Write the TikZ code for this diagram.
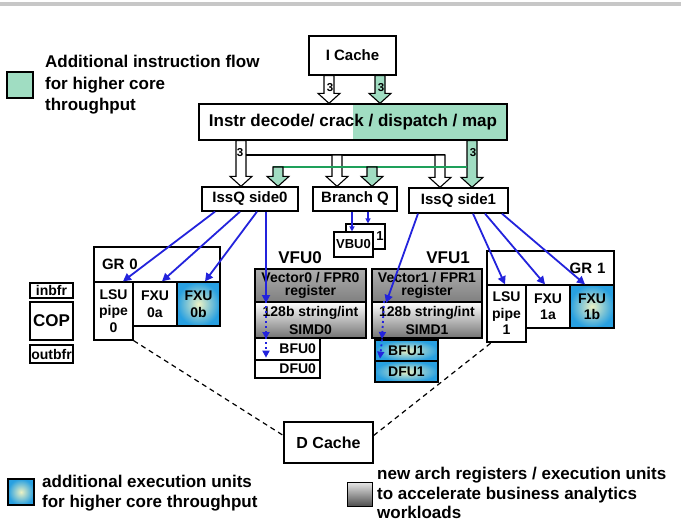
\documentclass[tikz,border=0pt]{standalone}
\usepackage{fontspec}
\setmainfont{Liberation Sans}
\usetikzlibrary{arrows.meta, calc, positioning}

\definecolor{mint}{RGB}{160,221,194}
\definecolor{flowgreen}{RGB}{30,160,90}
\definecolor{wireblue}{RGB}{35,35,220}
\definecolor{unitblue}{RGB}{40,160,225}
\definecolor{unitlight}{RGB}{236,242,196}

\tikzset{
    box/.style={draw, line width=1.3pt, fill=white, inner sep=0pt, align=center,
        font=\bfseries\fontsize{15}{17}\selectfont},
    unitbox/.style={box, font=\bfseries\fontsize{14}{16.5}\selectfont},
    newunit/.style={unitbox, inner color=unitlight, outer color=unitblue},
    regbox/.style={box, line width=2pt, font=\bfseries\fontsize{14}{13.5}\selectfont,
        top color=black!32, middle color=black!4, bottom color=black!50},
    simdbox/.style={box, line width=2pt, font=\bfseries\fontsize{14}{18}\selectfont,
        top color=white, middle color=black!10, bottom color=black!55},
    legendtxt/.style={anchor=west, inner sep=0pt, align=left,
        font=\bfseries\fontsize{17}{21.5}\selectfont},
    fatbody/.style={draw, line width=1.1pt, line join=miter},
    lanes/.style={font=\bfseries\fontsize{11.5}{11.5}\selectfont, inner sep=0pt},
    issue/.style={draw=wireblue, line width=1.8pt, -{Triangle[length=8pt, width=8pt]}},
    thinflow/.style={draw=wireblue, line width=1.2pt, -{Triangle[length=5pt, width=5pt]}},
    dotflow/.style={draw=wireblue, line width=1.8pt, dash pattern=on 2pt off 3pt,
        -{Triangle[length=7pt, width=7pt]}},
    flowline/.style={draw=flowgreen, line width=1.4pt},
    memlink/.style={draw, line width=1.2pt, dash pattern=on 5pt off 4pt}
}

\newcommand{\widearrow}[3]{%
    \path[fatbody, fill=#3] let \p1=#1, \p2=#2 in
        (\x1-5pt,\y1) -- (\x1-5pt,\y2+10pt) -- (\x1-11pt,\y2+10pt) -- (\x1,\y2)
        -- (\x1+11pt,\y2+10pt) -- (\x1+5pt,\y2+10pt) -- (\x1+5pt,\y1) -- cycle;}

\begin{document}
\begin{tikzpicture}[x=1pt, y=-1pt]
                        \useasboundingbox (0,0) rectangle (681,523);
                        \fill[black!22] (0,2) rectangle (681,6);

                        \node[draw, line width=1.2pt, fill=mint, minimum width=26pt, minimum height=26pt] (greenkey) at (20,85) {};
                        \node[legendtxt] (greentxt) at (45,85) {Additional instruction flow\\for higher core\\throughput};

                        \node[box, minimum width=87pt, minimum height=39pt] (icache) at (352.5,55.5) {I Cache};
                        \node[box, minimum width=308pt, minimum height=36pt, font=\bfseries\fontsize{17}{20}\selectfont,
                            path picture={\fill[mint] ($(path picture bounding box.north west)!0.5!(path picture bounding box.north east)$) rectangle (path picture bounding box.south east);}]
                            (decode) at (353,122) {Instr decode/ crack / dispatch / map};

                        \node[box, minimum width=96pt, minimum height=24pt] (issq0) at (250,199) {IssQ side0};
                        \node[box, minimum width=84pt, minimum height=24pt] (branchq) at (355,199) {Branch Q};
                        \node[box, minimum width=99pt, minimum height=25pt] (issq1) at (458.5,200.5) {IssQ side1};

                        \node[unitbox, line width=1.1pt, minimum width=39pt, minimum height=25pt, text width=36pt, align=right, font=\bfseries\fontsize{13}{15}\selectfont] (vbu1) at (365.5,236.5) {1};
                        \node[unitbox, line width=1.1pt, minimum width=39pt, minimum height=25pt, font=\bfseries\fontsize{13}{15}\selectfont] (vbu0) at (353.5,244.5) {VBU0};

                        \node[font=\bfseries\fontsize{17}{20}\selectfont] (vfu0) at (300,258) {VFU0};
                        \node[regbox, minimum width=111pt, minimum height=33pt] (vreg0) at (310.5,285.5) {Vector0 / FPR0\\register};
                        \node[simdbox, minimum width=111pt, minimum height=36pt] (simd0) at (310.5,320) {128b string/int\\SIMD0};
                        \node[unitbox, minimum width=65pt, minimum height=22pt, text width=57pt, align=right] (bfu0) at (287.5,349) {BFU0};
                        \node[unitbox, minimum width=65pt, minimum height=18pt, text width=57pt, align=right] (dfu0) at (287.5,369) {DFU0};

                        \node[font=\bfseries\fontsize{17}{20}\selectfont] (vfu1) at (448,258) {VFU1};
                        \node[regbox, minimum width=110pt, minimum height=33pt] (vreg1) at (427,285.5) {Vector1 / FPR1\\register};
                        \node[simdbox, minimum width=110pt, minimum height=36pt] (simd1) at (427,320) {128b string/int\\SIMD1};
                        \node[newunit, minimum width=63pt, minimum height=21pt] (bfu1) at (406.5,350.5) {BFU1};
                        \node[newunit, minimum width=63pt, minimum height=21pt] (dfu1) at (406.5,371.5) {DFU1};

                        \node[box, minimum width=126pt, minimum height=35pt, text width=110pt, align=left] (gr0) at (157,264.5) {GR 0};
                        \node[unitbox, minimum width=39pt, minimum height=58pt] (lsu0) at (113.5,311) {LSU\\pipe\\0};
                        \node[unitbox, minimum width=44pt, minimum height=44pt] (fxu0a) at (155,304) {FXU\\0a};
                        \node[newunit, minimum width=43pt, minimum height=44pt] (fxu0b) at (198.5,304) {FXU\\0b};

                        \node[box, minimum width=127pt, minimum height=34pt, text width=110pt, align=right] (gr1) at (550.5,268) {GR 1};
                        \node[unitbox, minimum width=39pt, minimum height=57pt] (lsu1) at (506.5,313.5) {LSU\\pipe\\1};
                        \node[unitbox, minimum width=44pt, minimum height=43pt] (fxu1a) at (548,306.5) {FXU\\1a};
                        \node[newunit, minimum width=44pt, minimum height=43pt] (fxu1b) at (592,306.5) {FXU\\1b};

                        \node[unitbox, minimum width=43pt, minimum height=15pt] (inbfr) at (51.5,290.5) {inbfr};
                        \node[box, line width=2pt, minimum width=43pt, minimum height=38pt, font=\bfseries\fontsize{17}{20}\selectfont] (cop) at (51.5,321) {COP};
                        \node[unitbox, minimum width=43pt, minimum height=18pt] (outbfr) at (51.5,354) {outbfr};

                        \node[box, minimum width=89pt, minimum height=41pt, font=\bfseries\fontsize{16}{18}\selectfont] (dcache) at (328.5,442.5) {D Cache};

                        \node[draw, line width=1.2pt, minimum width=26pt, minimum height=26pt, inner color=unitlight, outer color=unitblue] (bluekey) at (21,492) {};
                        \node[legendtxt, font=\bfseries\fontsize{17}{20}\selectfont] (bluetxt) at (42,493.5) {additional execution units\\for higher core throughput};
                        \node[draw, line width=1.2pt, minimum width=25pt, minimum height=24pt, top color=black!10, bottom color=black!70] (graykey) at (360,494.5) {};
                        \node[legendtxt, font=\bfseries\fontsize{17}{19.5}\selectfont] (graytxt) at (377,493) {new arch registers / execution units\\to accelerate business analytics\\workloads};

                        \widearrow{(329,0 |- icache.south)}{(329,0 |- decode.north)}{white}
                        \widearrow{(380,0 |- icache.south)}{(380,0 |- decode.north)}{mint}
                        \node[lanes] (lane0) at (330,88) {3};
                        \node[lanes] (lane1) at (381,88) {3};

                        \widearrow{(241,0 |- decode.south)}{(241,0 |- issq0.north)}{white}
                        \widearrow{(472,0 |- decode.south)}{(472,0 |- issq1.north)}{mint}
                        \node[lanes] (lane2) at (240,153) {3};
                        \node[lanes] (lane3) at (473,153) {3};

                        \coordinate (blk) at (246,155);
                        \draw[line width=1.1pt] (blk) -- (445,0 |- blk);
                        \widearrow{(337,0 |- blk)}{(337,0 |- branchq.north)}{white}
                        \widearrow{(440,0 |- blk)}{(440,0 |- issq1.north)}{white}
                        \coordinate (grn) at (273,167);
                        \draw[flowline] (grn) -- (467,0 |- grn);
                        \widearrow{(278,0 |- grn)}{(278,0 |- issq0.north)}{mint}
                        \widearrow{(372,0 |- grn)}{(372,0 |- branchq.north)}{mint}

                        \draw[thinflow] ([xshift=-3pt]branchq.south) -- ([xshift=-1.5pt]vbu0.north);
                        \draw[thinflow] ([xshift=13pt]branchq.south) -- ([xshift=2.5pt]vbu1.north);

                        \draw[issue] ([xshift=-35pt]issq0.south) -- ([xshift=9.5pt]lsu0.north);
                        \draw[issue] ([xshift=-10pt]issq0.south) -- ([xshift=7pt]fxu0a.north);
                        \draw[issue] ([xshift=7pt]issq0.south) -- ([xshift=6.5pt]fxu0b.north);
                        \draw[issue] ([xshift=16pt]issq0.south) -- (266,0 |- vreg0.south);
                        \draw[dotflow] (266,0 |- simd0.north) -- (266,0 |- simd0.south);
                        \draw[dotflow] (266,0 |- bfu0.north) -- ($(266,0 |- bfu0.south)+(0,-3)$);

                        \draw[issue] ([xshift=-40.5pt]issq1.south) -- (386,0 |- vreg1.south);
                        \draw[dotflow] (384,0 |- simd1.north) -- (382,0 |- simd1.south);
                        \draw[dotflow] (382,0 |- bfu1.north) -- ($(380,0 |- bfu1.south)+(0,-3)$);
                        \draw[issue] ([xshift=14.5pt]issq1.south) -- ([xshift=-1.5pt]lsu1.north);
                        \draw[issue] ([xshift=26.5pt]issq1.south) -- ([xshift=-3pt]fxu1a.north);
                        \draw[issue] ([xshift=43.5pt]issq1.south) -- ([xshift=-7pt]fxu1b.north);

                        \draw[memlink] (lsu0.south east) -- ($(dcache.west)+(0,-7)$);
                        \draw[memlink] ($(dcache.east)+(0,-7)$) -- ($(lsu1.south west)+(5,0)$);
\end{tikzpicture}
\end{document}
